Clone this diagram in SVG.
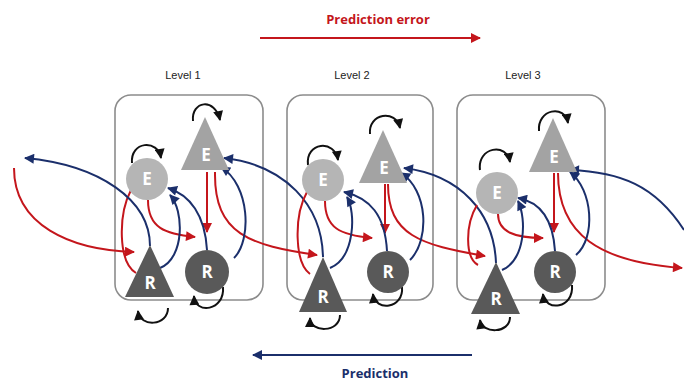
<svg xmlns="http://www.w3.org/2000/svg" width="684" height="381" viewBox="0 0 684 381">
<defs>
<style>
.box{fill:none;stroke:#8c8c8c;stroke-width:1.6}
.lvl{font-family:"Liberation Sans",Arial,sans-serif;font-size:11px;fill:#222;text-anchor:middle}
.red{fill:none;stroke:#c4161c;stroke-width:2}
.blue{fill:none;stroke:#1b2f6b;stroke-width:2}
.loop{fill:none;stroke:#111;stroke-width:2}
.ec{fill:#b5b5b5}
.et{fill:#a3a3a3}
.rn{fill:#595959}
.nl{font-family:"Open Sans","Liberation Sans",sans-serif;font-weight:bold;font-size:17px;fill:#fff;text-anchor:middle}
.ttl{font-family:"Open Sans","Liberation Sans",sans-serif;font-weight:bold;font-size:13px;text-anchor:middle}
</style>
<marker id="mr" viewBox="0 0 10 10" refX="9" refY="5" markerWidth="11" markerHeight="10" markerUnits="userSpaceOnUse" orient="auto"><path d="M0,0 L10,5 L0,10 z" fill="#c4161c"/></marker>
<marker id="mb" viewBox="0 0 10 10" refX="9" refY="5" markerWidth="11" markerHeight="10" markerUnits="userSpaceOnUse" orient="auto"><path d="M0,0 L10,5 L0,10 z" fill="#1b2f6b"/></marker>
<marker id="mk" viewBox="0 0 10 10" refX="9" refY="5" markerWidth="11" markerHeight="10" markerUnits="userSpaceOnUse" orient="auto"><path d="M0,0 L10,5 L0,10 z" fill="#111"/></marker>
</defs>
<rect width="684" height="381" fill="#fff"/>

<g id="legend">
<text class="ttl" x="378" y="24" fill="#c4161c">Prediction error</text>
<line class="red" x1="260" y1="38" x2="480" y2="38" marker-end="url(#mr)"/>
<line class="blue" x1="472" y1="355" x2="253" y2="355" marker-end="url(#mb)"/>
<text class="ttl" x="375" y="378" fill="#1b2f6b">Prediction</text>
</g>

<g id="level1">
<text class="lvl" x="183" y="79">Level 1</text>
<rect class="box" x="115" y="95" width="148" height="205" rx="16"/>
</g>
<g id="level2">
<text class="lvl" x="352" y="79">Level 2</text>
<rect class="box" x="287" y="95" width="146" height="205" rx="16"/>
</g>
<g id="level3">
<text class="lvl" x="523" y="79">Level 3</text>
<rect class="box" x="457" y="95" width="148" height="205" rx="16"/>
</g>

<g id="connectors">
<path class="red" d="M14,168 C14,225 70,250 134,252" marker-end="url(#mr)"/>
<path class="red" d="M131,190 C118,215 118,262 136,273"/>
<path class="red" d="M148,200 C148,228 165,234 195,237" marker-end="url(#mr)"/>
<path class="red" d="M207,172 L207,232" marker-end="url(#mr)"/>
<path class="red" d="M215,172 C214,235 250,245 317,255" marker-end="url(#mr)"/>
<path class="blue" d="M150,246 C150,200 100,165 25,158" marker-end="url(#mb)"/>
<path class="blue" d="M160,268 C185,258 184,210 170,195" marker-end="url(#mb)"/>
<path class="blue" d="M207,250 C205,215 190,195 168,188" marker-end="url(#mb)"/>
<path class="blue" d="M234,258 C252,240 250,185 221,167" marker-end="url(#mb)"/>
<path class="blue" d="M323,257 C322,205 285,165 224,158" marker-end="url(#mb)"/>
<path class="red" d="M307,192 C294,215 294,262 310,274"/>
<path class="red" d="M325,201 C325,228 340,235 372,238" marker-end="url(#mr)"/>
<path class="red" d="M385,184 L385,233" marker-end="url(#mr)"/>
<path class="red" d="M388,184 C388,235 420,245 485,256" marker-end="url(#mr)"/>
<path class="blue" d="M330,268 C355,258 356,212 347,197" marker-end="url(#mb)"/>
<path class="blue" d="M387,251 C385,215 370,198 344,192" marker-end="url(#mb)"/>
<path class="blue" d="M410,260 C430,240 428,190 401,173" marker-end="url(#mb)"/>
<path class="blue" d="M496,263 C494,212 460,175 404,168" marker-end="url(#mb)"/>
<path class="red" d="M477,205 C465,225 465,258 478,265"/>
<path class="red" d="M498,214 C498,232 515,238 543,238" marker-end="url(#mr)"/>
<path class="red" d="M554,173 L554,232" marker-end="url(#mr)"/>
<path class="red" d="M558,173 C558,235 600,262 682,268" marker-end="url(#mr)"/>
<path class="blue" d="M502,270 C525,260 527,220 518,201" marker-end="url(#mb)"/>
<path class="blue" d="M555,251 C553,220 540,202 518,198" marker-end="url(#mb)"/>
<path class="blue" d="M576,255 C596,238 593,190 570,172" marker-end="url(#mb)"/>
<path class="blue" d="M684,230 C655,185 620,172 570,170" marker-end="url(#mb)"/>
<path class="loop" d="M193,121 C191,101 215,97 220,120" marker-end="url(#mk)"/>
<path class="loop" d="M132,163 C130,141 158,139 161,158" marker-end="url(#mk)"/>
<path class="loop" d="M168,308 C168,326 140,328 138,311" marker-end="url(#mk)"/>
<path class="loop" d="M223,287 C225,311 195,315 194,296" marker-end="url(#mk)"/>
<path class="loop" d="M370,134 C368,113 396,109 400,128" marker-end="url(#mk)"/>
<path class="loop" d="M308,165 C305,142 335,139 338,160" marker-end="url(#mk)"/>
<path class="loop" d="M340,315 C340,333 310,333 310,318" marker-end="url(#mk)"/>
<path class="loop" d="M402,287 C404,309 375,312 373,294" marker-end="url(#mk)"/>
<path class="loop" d="M539,131 C537,109 565,104 568,123" marker-end="url(#mk)"/>
<path class="loop" d="M480,170 C477,147 507,142 510,162" marker-end="url(#mk)"/>
<path class="loop" d="M510,317 C510,334 482,334 480,320" marker-end="url(#mk)"/>
<path class="loop" d="M572,285 C574,309 545,312 543,294" marker-end="url(#mk)"/>
</g>

<g id="l1-E-circle"><circle class="ec" cx="147" cy="179" r="21"/><text class="nl" x="147" y="185">E</text></g>
<g id="l1-E-triangle"><polygon class="et" points="205,117 229,170 181,170"/><text class="nl" x="206" y="161">E</text></g>
<g id="l1-R-triangle"><polygon class="rn" points="150,245 174,297 125,297"/><text class="nl" x="150" y="289">R</text></g>
<g id="l1-R-circle"><circle class="rn" cx="207" cy="272" r="22"/><text class="nl" x="207" y="278">R</text></g>

<g id="l2-E-circle"><circle class="ec" cx="323" cy="180" r="21"/><text class="nl" x="323" y="186">E</text></g>
<g id="l2-E-triangle"><polygon class="et" points="383,130 407,183 359,183"/><text class="nl" x="384" y="174">E</text></g>
<g id="l2-R-triangle"><polygon class="rn" points="323,257 347,312 299,312"/><text class="nl" x="323" y="303">R</text></g>
<g id="l2-R-circle"><circle class="rn" cx="388" cy="272" r="21"/><text class="nl" x="388" y="278">R</text></g>

<g id="l3-E-circle"><circle class="ec" cx="497" cy="193" r="21"/><text class="nl" x="497" y="199">E</text></g>
<g id="l3-E-triangle"><polygon class="et" points="553,118 577,172 529,172"/><text class="nl" x="554" y="163">E</text></g>
<g id="l3-R-triangle"><polygon class="rn" points="496,262 520,314 471,314"/><text class="nl" x="496" y="305">R</text></g>
<g id="l3-R-circle"><circle class="rn" cx="555" cy="272" r="21"/><text class="nl" x="555" y="278">R</text></g>
</svg>
